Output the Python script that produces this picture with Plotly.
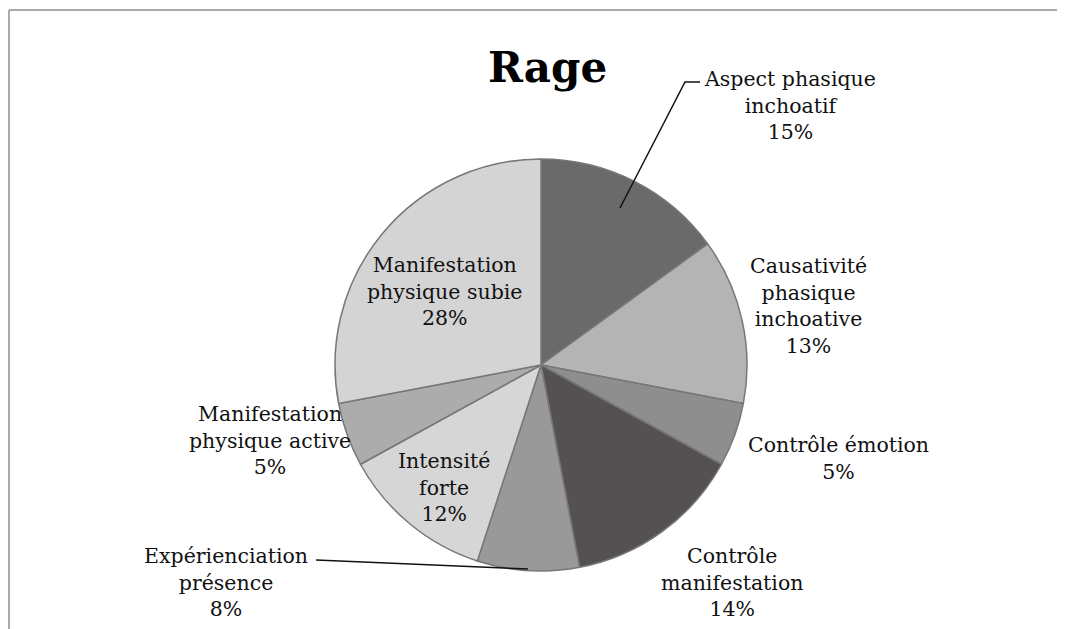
import plotly.graph_objects as go

title = "Rage"
labels = ["Aspect phasique<br>inchoatif", "Causativité<br>phasique<br>inchoative", "Contrôle émotion",
          "Contrôle<br>manifestation", "Expérienciation<br>présence", "Intensité<br>forte",
          "Manifestation<br>physique active", "Manifestation<br>physique subie"]
values = [15, 13, 5, 14, 8, 12, 5, 28]
colors = ["#6a6a6a", "#b4b4b4", "#8e8e8e", "#555152", "#999999", "#d6d6d6", "#acacac", "#d4d4d4"]

# label centre positions (screen pixels) for annotation placement
label_pos = [(790, 105), (808, 306), (838, 458), (732, 582), (226, 582), (444, 487), (270, 440), (445, 291)]

OFF = 8  # page body margin
W, H = 1065 - OFF, 629 - OFF
cx, cy, r = 541, 365, 206

def P(x, y):
    return (x - OFF) / W, 1 - (y - OFF) / H

dx0, dy0 = P(cx - r, cy + r)
dx1, dy1 = P(cx + r, cy - r)

fig = go.Figure(go.Pie(
    labels=[l.replace("<br>", " ") for l in labels], values=values, sort=False, direction="clockwise", rotation=0,
    marker=dict(colors=colors, line=dict(color="#777777", width=1.5)),
    textinfo="none", hoverinfo="label+percent",
    domain=dict(x=[dx0, dx1], y=[dy0, dy1]),
    showlegend=False,
))

font = dict(family="DejaVu Serif", size=20.5, color="#111111")
ann = []
for lab, v, (px, py) in zip(labels, values, label_pos):
    ax, ay = P(px, py)
    ann.append(dict(x=ax, y=ay, xref="paper", yref="paper", text=f"{lab}<br>{v}%",
                    showarrow=False, font=font, align="center", xanchor="center", yanchor="middle"))
tx, ty = P(547, 68)
ann.append(dict(x=tx, y=ty, xref="paper", yref="paper", text=f"<b>{title}</b>",
                showarrow=False, font=dict(family="DejaVu Serif", size=42, color="#000000"),
                xanchor="center", yanchor="middle"))

shapes = []
# leader lines
path1 = "M {} {} L {} {} L {} {}".format(*P(620, 208), *P(685, 82), *P(700, 82))
shapes.append(dict(type="path", xref="paper", yref="paper", path=path1, line=dict(color="#111111", width=1.5)))
x0, y0 = P(316, 560); x1, y1 = P(528, 569)
shapes.append(dict(type="line", xref="paper", yref="paper", x0=x0, y0=y0, x1=x1, y1=y1, line=dict(color="#111111", width=1.5)))
# frame lines
x0, y0 = P(9, 10); x1, y1 = P(1065, 10)
shapes.append(dict(type="line", xref="paper", yref="paper", x0=x0, y0=y0, x1=x1, y1=y1, line=dict(color="#aaaaaa", width=2)))
x0, y0 = P(9, 10); x1, y1 = P(9, 629)
shapes.append(dict(type="line", xref="paper", yref="paper", x0=x0, y0=y0, x1=x1, y1=y1, line=dict(color="#aaaaaa", width=2)))

fig.update_layout(width=W, height=H, margin=dict(l=0, r=0, t=0, b=0),
                  paper_bgcolor="white", plot_bgcolor="white",
                  annotations=ann, shapes=shapes)
fig.write_html("out.html")
